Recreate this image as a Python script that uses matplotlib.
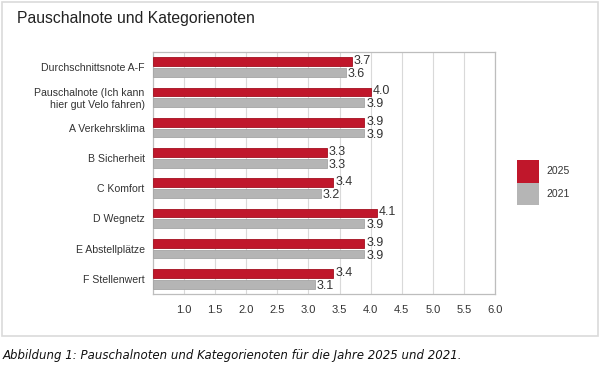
import matplotlib.pyplot as plt
from matplotlib.patches import Rectangle, Patch
import numpy as np

# Daten
kategorien = [
    "Durchschnittsnote A-F",
    "Pauschalnote (Ich kann\nhier gut Velo fahren)",
    "A Verkehrsklima",
    "B Sicherheit",
    "C Komfort",
    "D Wegnetz",
    "E Abstellplätze",
    "F Stellenwert",
]
noten_2025 = [3.7, 4.0, 3.9, 3.3, 3.4, 4.1, 3.9, 3.4]
noten_2021 = [3.6, 3.9, 3.9, 3.3, 3.2, 3.9, 3.9, 3.1]
x_ticks = [1.0, 1.5, 2.0, 2.5, 3.0, 3.5, 4.0, 4.5, 5.0, 5.5, 6.0]

rot = "#C0172B"
grau = "#B5B5B5"
text_farbe = "#333333"
basis = 0.5

plt.rcParams['font.family'] = ['Liberation Sans', 'DejaVu Sans']

fig = plt.figure(figsize=(6, 3.66), dpi=100)
ax = fig.add_axes([153 / 600, 1 - 294 / 366, (495 - 153) / 600, (294 - 52) / 366])

# Rahmen um die Grafik
fig.patches.append(Rectangle((2 / 600, 1 - 336 / 366), 596 / 600, 334 / 366,
                             transform=fig.transFigure, fill=False,
                             edgecolor="#DADADA", linewidth=1.2))

y = np.arange(len(kategorien))
h = 0.29
off = 0.175
w25 = np.array(noten_2025) - basis
w21 = np.array(noten_2021) - basis
ax.barh(y - off, w25, height=h, left=basis, color=rot, edgecolor="#A3101F",
        linewidth=0.6, zorder=3)
ax.barh(y + off, w21, height=h, left=basis, color=grau, edgecolor="#A5A5A5",
        linewidth=0.6, zorder=3)

for yi, v in zip(y, noten_2025):
    ax.text(v + 0.03, yi - off - 0.02, f"{v:.1f}", va="center", ha="left",
            fontsize=9, color=text_farbe)
for yi, v in zip(y, noten_2021):
    ax.text(v + 0.03, yi + off + 0.06, f"{v:.1f}", va="center", ha="left",
            fontsize=9, color=text_farbe)

ax.set_xlim(0.5, 6.0)
ax.set_ylim(len(kategorien) - 0.5, -0.5)
ax.set_xticks(x_ticks)
ax.set_xticklabels([f"{t:.1f}" for t in x_ticks])
ax.set_yticks(y)
ax.set_yticklabels(kategorien)
ax.tick_params(axis="both", length=0, labelcolor=text_farbe)
ax.tick_params(axis="x", pad=8, labelsize=8)
ax.tick_params(axis="y", pad=6, labelsize=7.6)
for lbl in ax.get_yticklabels():
    lbl.set_horizontalalignment("right")
    lbl.set_multialignment("right")

ax.grid(axis="x", color="#D9D9D9", linewidth=0.8, zorder=0)
ax.set_axisbelow(True)
for s in ax.spines.values():
    s.set_color("#BDBDBD")
    s.set_linewidth(0.9)

# Legende
handles = [Patch(facecolor=rot, label="2025"), Patch(facecolor=grau, label="2021")]
fig.legend(handles=handles, loc="upper left",
           bbox_to_anchor=(517 / 600, 1 - 160 / 366), frameon=False,
           fontsize=7.5, handlelength=2.1, handleheight=2.95, labelspacing=0,
           handletextpad=0.75, borderpad=0, borderaxespad=0, labelcolor=text_farbe)

fig.text(17 / 600, 1 - 18 / 366, "Pauschalnote und Kategorienoten",
         fontsize=11.3, va="center", ha="left", color="#222222")
fig.text(3 / 600, 1 - 356 / 366,
         "Abbildung 1: Pauschalnoten und Kategorienoten für die Jahre 2025 und 2021.",
         fontsize=8.5, style="italic", va="center", ha="left", color="#111111",
         family="DejaVu Sans")

fig.savefig("out.png", dpi=100)
